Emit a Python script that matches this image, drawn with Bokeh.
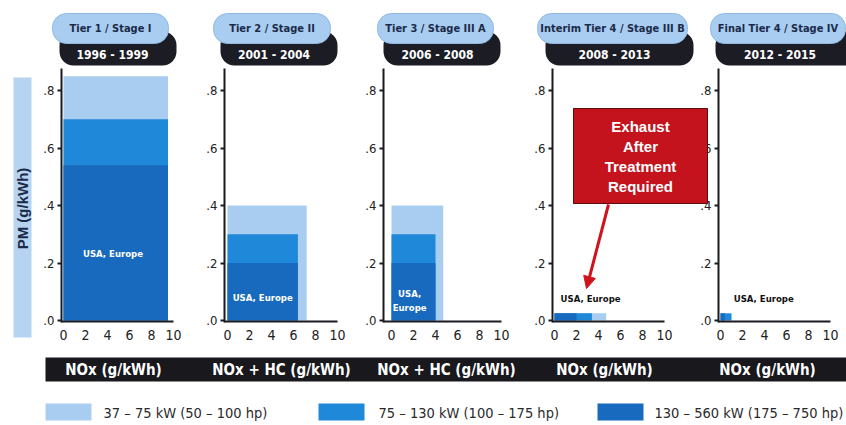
from bokeh.plotting import figure
from bokeh.models import (Range1d, LinearAxis, FixedTicker, CustomJSTickFormatter,
                          Arrow, NormalHead, ColumnDataSource)
from bokeh.core.properties import value
from bokeh.embed import file_html
from bokeh.resources import INLINE

# ---- emission limits (nonroad diesel, US EPA Tier / EU Stage) ----
stages = ["Tier 1 / Stage I", "Tier 2 / Stage II", "Tier 3 / Stage III A",
          "Interim Tier 4 / Stage III B", "Final Tier 4 / Stage IV"]
years = ["1996 - 1999", "2001 - 2004", "2006 - 2008", "2008 - 2013", "2012 - 2015"]
x_titles = ["NOx (g/kWh)", "NOx + HC (g/kWh)", "NOx + HC (g/kWh)",
            "NOx (g/kWh)", "NOx (g/kWh)"]
power_classes = ["37 – 75 kW (50 – 100 hp)", "75 – 130 kW (100 – 175 hp)",
                 "130 – 560 kW (175 – 750 hp)"]
region_labels = ["USA, Europe", "USA, Europe", "USA,\nEurope", "USA, Europe", "USA, Europe"]

# NOx (or NOx + HC) limit, g/kWh
nox_37_75 = [9.5, 7.2, 4.7, 4.7, 0.0]
nox_75_130 = [9.5, 6.4, 4.0, 3.4, 1.0]
nox_130_560 = [9.5, 6.4, 4.0, 2.0, 0.4]
# PM limit, g/kWh
pm_37_75 = [0.85, 0.40, 0.40, 0.025, 0.0]
pm_75_130 = [0.70, 0.30, 0.30, 0.025, 0.025]
pm_130_560 = [0.54, 0.20, 0.20, 0.025, 0.025]

y_ticks = [0, 0.2, 0.4, 0.6, 0.8]
x_ticks = [0, 2, 4, 6, 8, 10]
callout_lines = ["Exhaust", "After", "Treatment", "Required"]

# ---- look ----
W, H = 846, 425
COND = "DejaVu Sans Condensed, Roboto Condensed, Roboto"
SANS = "Liberation Sans"
LIGHT, MEDIUM, DARK = "#a9cdf0", "#1f88d8", "#176abd"
NAVY = "#1b2a48"
INK = "#1a1a20"
RED = "#c4131d"

# panel placement on the page (pixels) and scales
AXIS_PX = [61, 224, 383, 552, 718]   # column of each PM axis line
ZERO_PX = [63, 227, 391, 554, 720]   # column of NOx = 0 in each panel
NOX_PX = 11.0        # pixels per g/kWh NOx
PM_PX = 287.5        # pixels per g/kWh PM
PM_ZERO_PX = 320     # pixel row of PM = 0

p = figure(width=W, height=H, x_range=Range1d(0, W), y_range=Range1d(H, 0),
           output_backend="svg", toolbar_location=None, min_border=0,
           x_axis_type=None, y_axis_type=None, outline_line_color=None,
           background_fill_color="white", border_fill_color="white")

extra_x = {}
for i, z in enumerate(ZERO_PX):
    extra_x[f"p{i}"] = Range1d(-z / NOX_PX, (W - z) / NOX_PX)
p.extra_x_ranges = extra_x
p.extra_y_ranges = {"pm": Range1d(-(H - PM_ZERO_PX) / PM_PX, PM_ZERO_PX / PM_PX)}

pm_fmt = CustomJSTickFormatter(code="return tick.toFixed(1).replace(/^0/, '')")

# ---- left band with the PM title ----
p.quad(left=13, right=31, top=77, bottom=337, fill_color="#b6d4f1", line_color=None)
p.text(x=22, y=208, text=["PM (g/kWh)"], angle=1.5708, text_align="center",
       text_baseline="middle", text_font=value(SANS), text_font_style="bold",
       text_font_size="15px", text_color=NAVY)

# ---- stage headers ----
head_l = [52, 213, 377, 537, 710]
head_r = [168, 330, 493, 687, 845]
dark_l = [59, 220, 383, 545, 715]
dark_r = [176, 337, 500, 693, 880]
p.quad(left=dark_l, right=dark_r, top=31, bottom=65, fill_color="#1c1c24",
       line_color=None, border_radius=14)
p.quad(left=head_l, right=head_r, top=13, bottom=43, fill_color="#a8cdf1",
       line_color="#8fb9e3", line_width=1, border_radius=14)
head_c = [(l + r) / 2 for l, r in zip(head_l, head_r)]
p.text(x=head_c, y=28, text=stages, text_align="center", text_baseline="middle",
       text_font=value(COND), text_font_style="bold", text_font_size="11px",
       text_color=NAVY)
p.text(x=[c + 2 for c in head_c], y=54, text=years, text_align="center",
       text_baseline="middle", text_font=value(COND), text_font_style="bold",
       text_font_size="12px", text_color="white")

# ---- panels ----
label_pos = [(4.5, 0.233, "center", "white"), (3.2, 0.08, "center", "white"),
             (1.65, 0.07, "center", "white"), (0.55, 0.077, "left", "#111111"),
             (1.2, 0.077, "left", "#111111")]
for i in range(len(stages)):
    name = f"p{i}"
    for nox, pm, col in ((nox_37_75, pm_37_75, LIGHT),
                         (nox_75_130, pm_75_130, MEDIUM),
                         (nox_130_560, pm_130_560, DARK)):
        src = ColumnDataSource(dict(right=[nox[i]], top=[pm[i]]))
        p.quad(left=0, right="right", bottom=0, top="top", source=src,
               fill_color=col, line_color=None,
               x_range_name=name, y_range_name="pm")

    lx, ly, align, tcol = label_pos[i]
    p.text(x=lx, y=ly, text=[region_labels[i]], text_align=align,
           text_baseline="middle", text_font=value(COND), text_font_style="bold",
           text_font_size="9.5px", text_color=tcol, text_line_height=1.3,
           x_range_name=name, y_range_name="pm")

    axis_loc = (AXIS_PX[i] - ZERO_PX[i]) / NOX_PX
    yax = LinearAxis(x_range_name=name, y_range_name="pm",
                     fixed_location=axis_loc, bounds=(-0.006, 0.877),
                     ticker=FixedTicker(ticks=y_ticks), formatter=pm_fmt,
                     axis_line_width=2, axis_line_color=INK,
                     major_tick_in=0, major_tick_out=4, major_tick_line_width=2,
                     major_tick_line_color=INK, minor_tick_line_color=None,
                     major_label_standoff=3, major_label_text_font=COND,
                     major_label_text_font_size="13px",
                     major_label_text_color="#222222")
    p.add_layout(yax, "left")
    xax = LinearAxis(x_range_name=name, y_range_name="pm",
                     fixed_location=-0.004, bounds=(axis_loc, 10.0),
                     ticker=FixedTicker(ticks=x_ticks),
                     axis_line_width=2, axis_line_color=INK,
                     major_tick_in=0, major_tick_out=0,
                     minor_tick_line_color=None, major_label_standoff=8,
                     major_label_text_font=COND,
                     major_label_text_font_size="14px",
                     major_label_text_color="#222222")
    p.add_layout(xax, "below")

# ---- bottom band with the x titles ----
p.quad(left=45, right=W, top=357, bottom=381, fill_color="#18181d", line_color=None)
p.text(x=[113, 281, 446, 604, 767], y=369, text=x_titles, text_align="center",
       text_baseline="middle", text_font=value(COND), text_font_style="bold",
       text_font_size="15px", text_color="white")

# ---- legend ----
sw_l = [45, 318, 597]
p.quad(left=sw_l, right=[s + 46 for s in sw_l], top=403, bottom=420,
       fill_color=[LIGHT, MEDIUM, DARK], line_color=None)
p.text(x=[103, 378, 654], y=412, text=power_classes, text_align="left",
       text_baseline="middle", text_font=value(COND), text_font_size="14.5px",
       text_color="#2a2a2a")

# ---- after-treatment callout ----
p.quad(left=573, right=707, top=108, bottom=203, fill_color=RED,
       line_color="#5c0a0e", line_width=1, level="overlay")
p.text(x=640, y=[126, 146, 166, 186], text=callout_lines, text_align="center",
       text_baseline="middle", text_font=value(SANS), text_font_style="bold",
       text_font_size="15px", text_color="white", level="overlay")
p.add_layout(Arrow(end=NormalHead(size=12, fill_color="#d0121c", line_color="#d0121c"),
                   x_start=608, y_start=204, x_end=586, y_end=288,
                   line_color="#d0121c", line_width=3))

open("out.html", "w").write(file_html(p, INLINE))
